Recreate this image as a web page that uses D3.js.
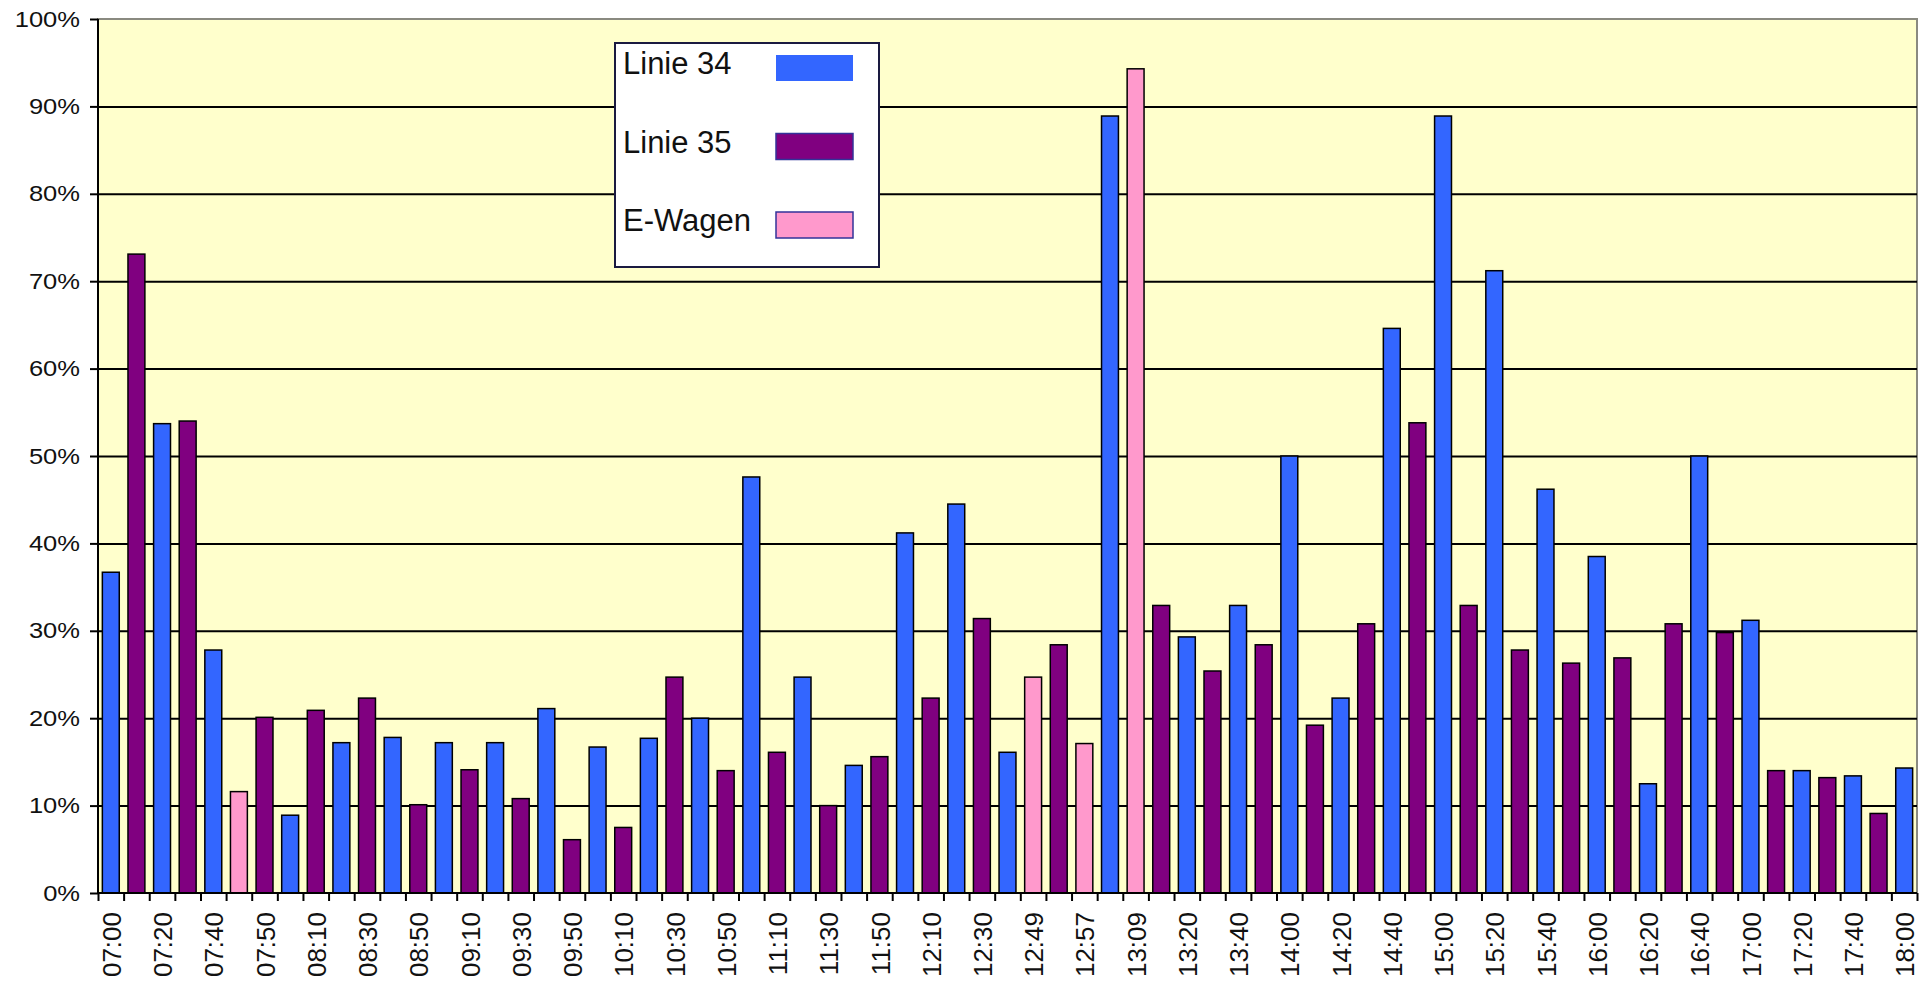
<!DOCTYPE html>
<html>
<head>
<meta charset="UTF-8">
<title>Auslastung Linie 34 / 35</title>
<script src="https://cdn.jsdelivr.net/npm/d3@7"></script>
<style>
  body { margin: 0; background: #fff; }
  svg { display: block; }
  text { font-family: "Liberation Sans", Arial, sans-serif; fill: #111; }
  .bar { stroke: #000; stroke-width: 1.5; }
  .grid line { stroke: #000; stroke-width: 2; }
  .grid path { display: none; }
  .axis path, .axis line { stroke: #000; stroke-width: 2; }
</style>
</head>
<body>
<svg width="1921" height="986"></svg>
<script>
// tick labels, shown under every second bar
var tickLabels = ["07:00","07:20","07:40","07:50","08:10","08:30","08:50","09:10","09:30","09:50",
  "10:10","10:30","10:50","11:10","11:30","11:50","12:10","12:30","12:49","12:57",
  "13:09","13:20","13:40","14:00","14:20","14:40","15:00","15:20","15:40","16:00",
  "16:20","16:40","17:00","17:20","17:40","18:00"];

var seriesNames = ["Linie 34", "Linie 35", "E-Wagen"];
var seriesColors = ["#3366ff", "#800080", "#ff99cc"];

// percent per departure slot (71 slots), null = no bar of that series
var linie34 = [36.7,null,53.7,null,27.8,null,null,8.9,null,17.2,null,17.8,null,17.2,null,17.2,null,21.1,null,16.7,
  null,17.7,null,20.0,null,47.6,null,24.7,null,14.6,null,41.2,null,44.5,null,16.1,null,null,null,88.9,
  null,null,29.3,null,32.9,null,50.0,null,22.3,null,64.6,null,88.9,null,71.2,null,46.2,null,38.5,null,
  12.5,null,50.0,null,31.2,null,14.0,null,13.4,null,14.3];
var linie35 = [null,73.1,null,54.0,null,null,20.1,null,20.9,null,22.3,null,10.1,null,14.1,null,10.8,null,6.1,null,
  7.5,null,24.7,null,14.0,null,16.1,null,10.0,null,15.6,null,22.3,null,31.4,null,null,28.4,null,null,
  null,32.9,null,25.4,null,28.4,null,19.2,null,30.8,null,53.8,null,32.9,null,27.8,null,26.3,null,26.9,
  null,30.8,null,29.8,null,14.0,null,13.2,null,9.1,null];
var eWagen = [null,null,null,null,null,11.6,null,null,null,null,null,null,null,null,null,null,null,null,null,null,
  null,null,null,null,null,null,null,null,null,null,null,null,null,null,null,null,24.7,null,17.1,null,
  94.3,null,null,null,null,null,null,null,null,null,null,null,null,null,null,null,null,null,null,null,
  null,null,null,null,null,null,null,null,null,null,null];

var yTicks = [0,10,20,30,40,50,60,70,80,90,100];

var svg = d3.select("svg"),
    margin = {top: 19, right: 4, bottom: 93, left: 98},
    width = +svg.attr("width") - margin.left - margin.right,
    height = +svg.attr("height") - margin.top - margin.bottom;

var slots = d3.range(linie34.length);

var x = d3.scaleBand().domain(slots).range([0, width]).paddingInner(0.34).paddingOuter(0.17),
    xEdge = d3.scaleLinear().domain([0, slots.length]).range([0, width]),
    y = d3.scaleLinear().domain([0, 100]).range([height, 0]);

var g = svg.append("g")
    .attr("transform", "translate(" + margin.left + "," + margin.top + ")");

// plot background with grey frame (top / right)
g.append("rect")
    .attr("width", width)
    .attr("height", height)
    .attr("fill", "#ffffcc")
    .attr("stroke", "#8a8a80")
    .attr("stroke-width", 2);

g.append("g")
    .attr("class", "grid")
    .call(d3.axisLeft(y).tickValues(yTicks.slice(1, -1)).tickSize(-width).tickFormat(""));

// bars
var all = [linie34, linie35, eWagen];
all.forEach(function(series, s) {
  g.selectAll(".bar-" + s)
    .data(slots.filter(function(i) { return series[i] != null; }))
    .enter().append("rect")
      .attr("class", "bar bar-" + s)
      .attr("x", function(i) { return x(i); })
      .attr("y", function(i) { return y(series[i]); })
      .attr("width", x.bandwidth())
      .attr("height", function(i) { return height - y(series[i]); })
      .attr("fill", seriesColors[s]);
});

// y axis (labels are a bit wide in the original, so stretch them)
var yAxis = g.append("g")
    .attr("class", "axis")
    .call(d3.axisLeft(y).tickValues(yTicks).tickSize(8).tickPadding(10)
      .tickFormat(function(d) { return d + "%"; }));
yAxis.selectAll("text")
    .style("font-size", "22px")
    .each(function() {
      var w = this.getComputedTextLength();
      d3.select(this).attr("textLength", w * 1.16).attr("lengthAdjust", "spacingAndGlyphs");
    });
yAxis.select(".domain").attr("d", "M0,0V" + height);

// x axis: tick marks between slots
var xTicks = g.append("g")
    .attr("class", "axis")
    .attr("transform", "translate(0," + height + ")")
    .call(d3.axisBottom(xEdge).tickValues(d3.range(slots.length + 1)).tickSize(8).tickFormat(""));
xTicks.select(".domain").attr("d", "M0,0H" + width);

// x labels under every second slot
var xLab = g.append("g")
    .attr("transform", "translate(0," + height + ")")
    .call(d3.axisBottom(x).tickValues(slots.filter(function(i) { return i % 2 === 0; }))
      .tickSize(0).tickFormat(function(i) { return tickLabels[i / 2]; }));
xLab.select(".domain").remove();
xLab.selectAll("text")
    .style("font-size", "26px")
    .attr("text-anchor", "end")
    .attr("transform", "translate(1,19) rotate(-90)")
    .attr("x", 0)
    .attr("y", 0)
    .attr("dy", "0.35em");

// legend
var legend = svg.append("g").attr("transform", "translate(615,43)");
legend.append("rect")
    .attr("width", 264)
    .attr("height", 224)
    .attr("fill", "#fff")
    .attr("stroke", "#1a1a40")
    .attr("stroke-width", 2);

var ly = d3.scalePoint().domain(seriesNames).range([31, 188]);
var item = legend.selectAll(".item")
    .data(seriesNames)
  .enter().append("g")
    .attr("transform", function(d) { return "translate(0," + ly(d) + ")"; });
item.append("text")
    .attr("x", 8)
    .attr("y", 0)
    .style("font-size", "31px")
    .text(function(d) { return d; });
item.append("rect")
    .attr("x", 161)
    .attr("y", -19)
    .attr("width", 77)
    .attr("height", 26)
    .attr("fill", function(d, i) { return seriesColors[i]; })
    .attr("stroke", function(d, i) { return i === 0 ? "none" : "#333399"; })
    .attr("stroke-width", 1.5);
</script>
</body>
</html>
